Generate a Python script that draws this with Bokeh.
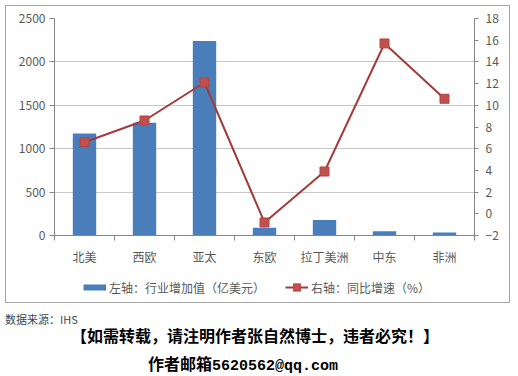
from bokeh.plotting import figure
from bokeh.models import (Range1d, LinearAxis, FixedTicker, Legend, LegendItem, ColumnDataSource, Div)
from bokeh.layouts import column
from bokeh.embed import file_html
from bokeh.resources import INLINE

regions = ["北美", "西欧", "亚太", "东欧", "拉丁美洲", "中东", "非洲"]
value_added = [1175, 1300, 2240, 90, 180, 50, 35]
growth = [6.6, 8.6, 12.1, -0.8, 3.9, 15.7, 10.6]
left_ticks = [0, 500, 1000, 1500, 2000, 2500]
right_ticks = [-2, 0, 2, 4, 6, 8, 10, 12, 14, 16, 18]
legend_bar = "左轴：行业增加值（亿美元）"
legend_line = "右轴：同比增速（%）"
source_note = "数据来源：IHS"
note1 = "【如需转载，请注明作者张自然博士，违者必究！】"
note2_cn = "作者邮箱"
note2_mail = "5620562@qq.com"

FONT = "Noto Sans CJK SC"
GRAY = "#595959"
AXIS = "#868686"
BOX = "1px solid #a6a6a6"
BAR_C = "#4a7ebb"
LINE_C = "#a33b39"
MARK_C = "#c0504d"

xs = list(range(len(regions)))
src = ColumnDataSource(dict(x=xs, v=value_added, g=growth))

p = figure(width=505, height=264, output_backend="svg", toolbar_location=None,
           x_range=Range1d(-0.5, len(regions) - 0.5), y_range=Range1d(0, 2500),
           min_border_left=48, min_border_right=37, min_border_top=12, min_border_bottom=35)
p.styles = {"border-top": BOX, "border-left": BOX, "border-right": BOX}
p.margin = 0
p.outline_line_color = None
p.extra_y_ranges = {"right": Range1d(-2, 18)}

p.vbar(x="x", top="v", width=0.39, source=src, fill_color=BAR_C, line_color=None)
p.line(x="x", y="g", source=src, y_range_name="right", line_color=LINE_C, line_width=2)
p.scatter(x="x", y="g", source=src, y_range_name="right", marker="square", size=9,
          fill_color=MARK_C, line_color="#b04643")

# x axis: labels at category centres, tick marks between categories
xa = p.xaxis[0]
xa.ticker = FixedTicker(ticks=xs, minor_ticks=[i - 0.5 for i in range(len(regions) + 1)])
xa.major_label_overrides = {i: r for i, r in enumerate(regions)}
xa.major_tick_out = 0
xa.major_tick_in = 0
xa.minor_tick_out = 5
xa.minor_tick_in = 0
xa.minor_tick_line_color = AXIS
xa.axis_line_color = AXIS
xa.major_label_standoff = 7
xa.major_label_text_font = FONT
xa.major_label_text_font_size = "12px"
xa.major_label_text_color = GRAY

ya = p.yaxis[0]
ya.ticker = FixedTicker(ticks=left_ticks)
ya.major_tick_out = 5
ya.major_tick_in = 0
ya.minor_tick_out = 0
ya.minor_tick_in = 0
ya.axis_line_color = AXIS
ya.major_tick_line_color = AXIS
ya.major_label_standoff = 4
ya.major_label_text_font = FONT
ya.major_label_text_font_size = "12px"
ya.major_label_text_color = GRAY

ra = LinearAxis(y_range_name="right", ticker=FixedTicker(ticks=right_ticks))
ra.major_tick_out = 4
ra.major_tick_in = 0
ra.minor_tick_out = 0
ra.minor_tick_in = 0
ra.axis_line_color = AXIS
ra.major_tick_line_color = AXIS
ra.major_label_standoff = 7
ra.major_label_text_font = FONT
ra.major_label_text_font_size = "12px"
ra.major_label_text_color = GRAY
p.add_layout(ra, "right")

p.xgrid.grid_line_color = None
p.ygrid.grid_line_color = "#c8c8c8"
p.ygrid.ticker = FixedTicker(ticks=left_ticks)

# legend strip (inside the same box)
q = figure(width=505, height=34, output_backend="svg", toolbar_location=None,
           x_range=Range1d(0, 1), y_range=Range1d(0, 1),
           x_axis_location=None, y_axis_location=None,
           min_border_left=48, min_border_right=37, min_border_top=0, min_border_bottom=0)
q.styles = {"border-bottom": BOX, "border-left": BOX, "border-right": BOX}
q.margin = 0
q.grid.visible = False
q.outline_line_color = None
lg_bar = q.line(x=[-5, -4], y=[-5, -5], line_color=BAR_C, line_width=6)
lg_line = q.line(x=[-5, -4], y=[-5, -5], line_color=LINE_C, line_width=2)
lg_mark = q.scatter(x=[-5], y=[-5], marker="square", fill_color=MARK_C, line_color="#b04643")

legend = Legend(items=[LegendItem(label=legend_bar, renderers=[lg_bar]),
                       LegendItem(label=legend_line, renderers=[lg_line, lg_mark])],
                orientation="horizontal", location=(29, 7),
                glyph_width=23, glyph_height=18, label_standoff=3, spacing=20,
                label_text_font=FONT, label_text_font_size="12px", label_text_color=GRAY,
                border_line_color=None, background_fill_alpha=0, padding=0, margin=0)
q.add_layout(legend)

notes = Div(width=507, height=70, margin=0, text=f"""
<div style="position:relative;width:507px;height:70px;font-family:'{FONT}';">
  <div style="position:absolute;left:0px;top:9px;font-size:11px;line-height:14px;color:#444444;white-space:nowrap;">{source_note}</div>
  <div style="position:absolute;left:12px;width:476px;top:22px;text-align:center;font-size:16px;line-height:20px;font-weight:bold;color:#000000;white-space:nowrap;">{note1}</div>
  <div style="position:absolute;left:0px;width:476px;top:50px;text-align:center;font-size:16px;line-height:20px;font-weight:bold;color:#000000;white-space:nowrap;">{note2_cn}<span style="font-family:'Liberation Mono';font-size:15px;">{note2_mail}</span></div>
</div>""")

layout = column(p, q, notes, spacing=0)
layout.styles = {"margin-left": "5px", "margin-top": "5px"}
open("out.html", "w").write(file_html(layout, INLINE))
